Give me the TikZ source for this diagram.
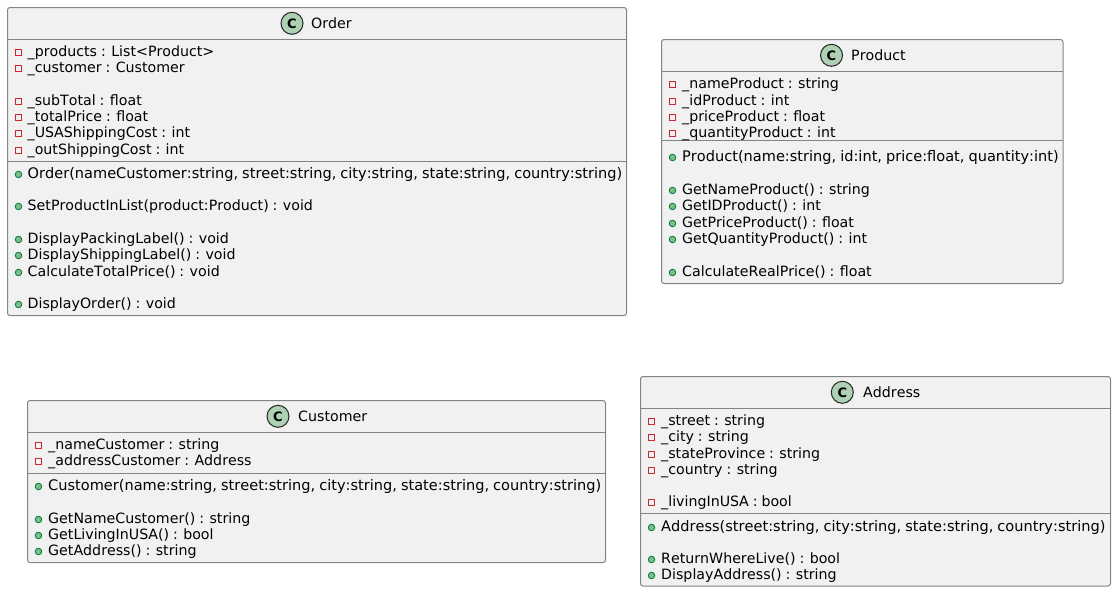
\documentclass[tikz,border=0pt]{standalone}
\usepackage{fontspec}
\setmainfont[WordSpace=0.87,Kerning=Off]{DejaVu Sans}
\usepackage{xcolor}
\definecolor{boxfill}{HTML}{F1F1F1}
\definecolor{boxline}{HTML}{848484}
\definecolor{spotfill}{HTML}{ADD1B2}
\definecolor{privline}{HTML}{C82930}
\definecolor{pubfill}{HTML}{84BE84}
\definecolor{publine}{HTML}{038048}
\tikzset{%
    % Specifications for style of nodes:
    classbox/.style = {
        rectangle, rounded corners=2.5pt, draw=boxline, fill=boxfill,
        line width=1pt, anchor=north west, inner sep=0pt, outer sep=0pt
    },
    spot/.style = {
        circle, draw=black!85, fill=spotfill, line width=1pt, inner sep=0pt,
        minimum size=22pt, font=\fontsize{13}{13}\bfseries
    },
    title/.style = {anchor=base west, inner sep=0pt, font=\fontsize{14.2}{16}\selectfont},
    member/.style = {anchor=base west, inner sep=0pt, font=\fontsize{14.2}{16}\selectfont},
    longmember/.style = {member, font=\fontsize{14.55}{16}\selectfont},
    privmark/.style = {
        rectangle, draw=privline, line width=0.9pt, inner sep=0pt, minimum size=6pt
    },
    pubmark/.style = {
        circle, draw=publine, fill=pubfill, line width=0.9pt, inner sep=0pt, minimum size=6.5pt
    },
    divider/.style = {draw=boxline, line width=1pt}
}
\begin{document}
\begin{tikzpicture}[x=1pt, y=-1pt]
    \useasboundingbox (0,0) rectangle (1116,592);
    % Order
    \node[classbox, minimum width=619pt, minimum height=308pt] (order) at (7.5,7.5) {};
    \node[spot] (orderspot) at (292,23.3) {C};
    \node[title] (ordertitle) at (311,28) {Order};
    \draw[divider] (order.west |- 0,39.5) -- (order.east |- 0,39.5);
    \draw[divider] (order.west |- 0,161) -- (order.east |- 0,161);
    \foreach \row/\rowtext in {56/{\_products : List<Product>}, 72/{\_customer : Customer},
        105/{\_subTotal : float}, 121/{\_totalPrice : float},
        137/{\_USAShippingCost : int}, 154/{\_outShippingCost : int}} {
        \node[privmark] (ordermark\row) at (18.5,\row-3.5) {};
        \node[member] (orderrow\row) at (27.5,\row) {\rowtext};
    }
    \node[pubmark] (ordermark178) at (18.5,174.5) {};
    \node[longmember] (orderrow178) at (27.5,178) {Order(nameCustomer:string, street:string, city:string, state:string, country:string)};
    \foreach \row/\rowtext in {210/{SetProductInList(product:Product) : void}, 243/{DisplayPackingLabel() : void},
        259/{DisplayShippingLabel() : void}, 276/{CalculateTotalPrice() : void},
        308/{DisplayOrder() : void}} {
        \node[pubmark] (ordermark\row) at (18.5,\row-3.5) {};
        \node[member] (orderrow\row) at (27.5,\row) {\rowtext};
    }
    % Product
    \node[classbox, minimum width=401.5pt, minimum height=244pt] (product) at (661.5,39.5) {};
    \node[spot] (productspot) at (831.5,55.3) {C};
    \node[title] (producttitle) at (851,60) {Product};
    \draw[divider] (product.west |- 0,71.5) -- (product.east |- 0,71.5);
    \draw[divider] (product.west |- 0,140.5) -- (product.east |- 0,140.5);
    \foreach \row/\rowtext in {88/{\_nameProduct : string}, 105/{\_idProduct : int},
        121/{\_priceProduct : float}, 137/{\_quantityProduct : int}} {
        \node[privmark] (productmark\row) at (672.5,\row-3.5) {};
        \node[member] (productrow\row) at (682,\row) {\rowtext};
    }
    \node[pubmark] (productmark161) at (672.5,157.5) {};
    \node[longmember] (productrow161) at (682,161) {Product(name:string, id:int, price:float, quantity:int)};
    \foreach \row/\rowtext in {194/{GetNameProduct() : string}, 210/{GetIDProduct() : int},
        227/{GetPriceProduct() : float}, 243/{GetQuantityProduct() : int},
        276/{CalculateRealPrice() : float}} {
        \node[pubmark] (productmark\row) at (672.5,\row-3.5) {};
        \node[member] (productrow\row) at (682,\row) {\rowtext};
    }
    % Customer
    \node[classbox, minimum width=578pt, minimum height=162pt] (customer) at (27.5,400.5) {};
    \node[spot] (customerspot) at (278,416.3) {C};
    \node[title] (customertitle) at (298,421) {Customer};
    \draw[divider] (customer.west |- 0,432.5) -- (customer.east |- 0,432.5);
    \draw[divider] (customer.west |- 0,473) -- (customer.east |- 0,473);
    \foreach \row/\rowtext in {449/{\_nameCustomer : string}, 465/{\_addressCustomer : Address}} {
        \node[privmark] (customermark\row) at (38.5,\row-3.5) {};
        \node[member] (customerrow\row) at (48,\row) {\rowtext};
    }
    \node[pubmark] (customermark490) at (38.5,486.5) {};
    \node[longmember] (customerrow490) at (48,490) {Customer(name:string, street:string, city:string, state:string, country:string)};
    \foreach \row/\rowtext in {523/{GetNameCustomer() : string}, 539/{GetLivingInUSA() : bool},
        555/{GetAddress() : string}} {
        \node[pubmark] (customermark\row) at (38.5,\row-3.5) {};
        \node[member] (customerrow\row) at (48,\row) {\rowtext};
    }
    % Address
    \node[classbox, minimum width=470pt, minimum height=209.5pt] (address) at (640.5,376.5) {};
    \node[spot] (addressspot) at (842.3,392.3) {C};
    \node[title] (addresstitle) at (863,397) {Address};
    \draw[divider] (address.west |- 0,408.5) -- (address.east |- 0,408.5);
    \draw[divider] (address.west |- 0,513.5) -- (address.east |- 0,513.5);
    \foreach \row/\rowtext in {425/{\_street : string}, 441/{\_city : string},
        458/{\_stateProvince : string}, 474/{\_country : string},
        506/{\_livingInUSA : bool}} {
        \node[privmark] (addressmark\row) at (651.5,\row-3.5) {};
        \node[member] (addressrow\row) at (661,\row) {\rowtext};
    }
    \node[pubmark] (addressmark531) at (651.5,527.5) {};
    \node[longmember] (addressrow531) at (661,531) {Address(street:string, city:string, state:string, country:string)};
    \foreach \row/\rowtext in {563/{ReturnWhereLive() : bool}, 579/{DisplayAddress() : string}} {
        \node[pubmark] (addressmark\row) at (651.5,\row-3.5) {};
        \node[member] (addressrow\row) at (661,\row) {\rowtext};
    }
\end{tikzpicture}
\end{document}
